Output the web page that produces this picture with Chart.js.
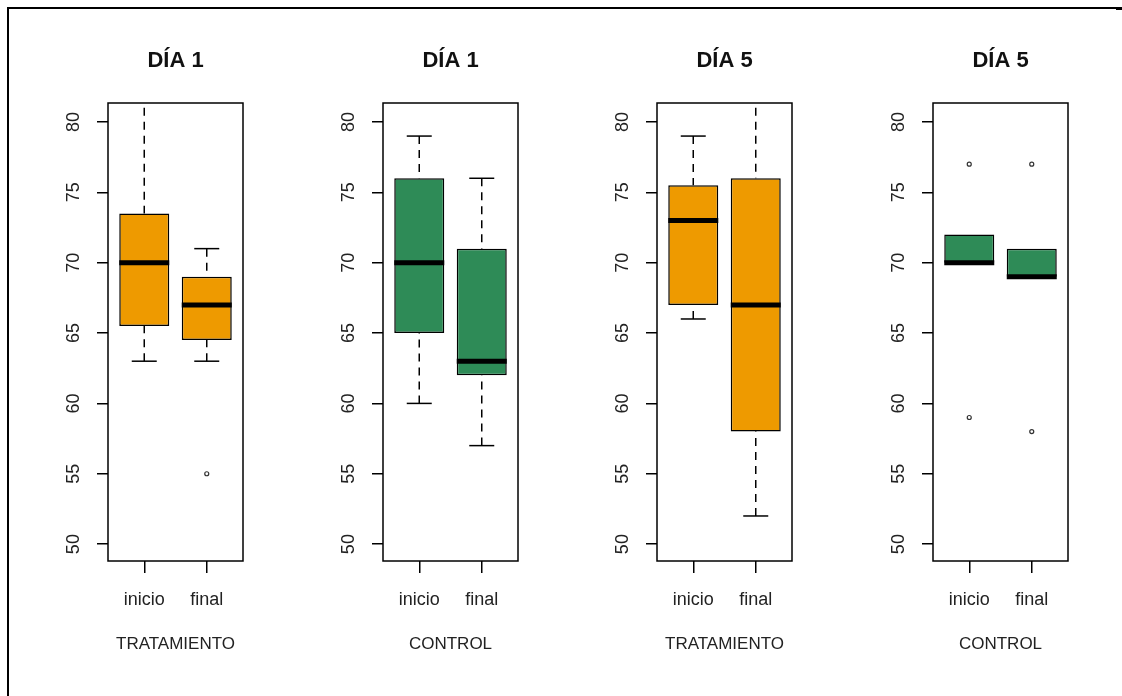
<!DOCTYPE html>
<html>
<head>
<meta charset="utf-8">
<script src="https://cdn.jsdelivr.net/npm/chart.js@4"></script>
<style>
html,body{margin:0;padding:0;background:#fff;}
body{width:1122px;height:696px;position:relative;overflow:hidden;}
#frame{position:absolute;left:7px;top:7px;width:1115px;height:689px;border-left:2px solid #000;border-top:2px solid #000;box-sizing:border-box;}
#stub{position:absolute;left:1116px;top:7px;width:6px;height:3px;background:#000;}
.panel{position:absolute;top:0;width:255px;height:696px;}
canvas{display:block;}
</style>
</head>
<body>
<div id="frame"></div>
<div id="stub"></div>
<div class="panel" style="left:48px"><canvas id="c0" width="255" height="696"></canvas></div>
<div class="panel" style="left:323px"><canvas id="c1" width="255" height="696"></canvas></div>
<div class="panel" style="left:597px"><canvas id="c2" width="255" height="696"></canvas></div>
<div class="panel" style="left:873px"><canvas id="c3" width="255" height="696"></canvas></div>
<script>
// ---- data ----
const categories = ["inicio", "final"];
const panelTitles = ["DÍA 1", "DÍA 1", "DÍA 5", "DÍA 5"];
const groupLabels = ["TRATAMIENTO", "CONTROL", "TRATAMIENTO", "CONTROL"];
const whiskerLow  = [[63, 63],     [60, 57], [66, 52],   [70, 69]];
const q1          = [[65.5, 64.5], [65, 62], [67, 58],   [70, 69]];
const median      = [[70, 67],     [70, 63], [73, 67],   [70, 69]];
const q3          = [[73.5, 69],   [76, 71], [75.5, 76], [72, 71]];
const whiskerHigh = [[82, 71],     [79, 76], [79, 82],   [72, 71]];
const outliers    = [[[], [55]], [[], []], [[], []], [[77, 59], [77, 58]]];
const yTicks = [50, 55, 60, 65, 70, 75, 80];
const fillColors = ["#EE9A00", "#2E8B57", "#EE9A00", "#2E8B57"];

// ---- styling ----
const FAMILY = "'Liberation Sans', Arial, sans-serif";

const boxPlugin = {
  id: 'boxWhiskers',
  beforeDatasetsDraw(chart, args, opts) {
    const {ctx, chartArea: a, scales: {y}} = chart;
    const bars = chart.getDatasetMeta(0).data;
    ctx.save();
    ctx.beginPath();
    ctx.rect(a.left, a.top, a.right - a.left, a.bottom - a.top);
    ctx.clip();
    ctx.strokeStyle = '#000';
    ctx.lineWidth = 1.5;
    bars.forEach((bar, i) => {
      const x = bar.x, half = bar.width / 4;
      [[opts.high[i], opts.q3[i]], [opts.low[i], opts.q1[i]]].forEach(([end, edge]) => {
        if (end === edge) return;
        const y0 = y.getPixelForValue(end), y1 = y.getPixelForValue(edge);
        ctx.setLineDash([8, 6]);
        ctx.beginPath(); ctx.moveTo(x, y0); ctx.lineTo(x, y1); ctx.stroke();
        ctx.setLineDash([]);
        ctx.beginPath(); ctx.moveTo(x - half, y0); ctx.lineTo(x + half, y0); ctx.stroke();
      });
    });
    ctx.restore();
  },
  afterDatasetsDraw(chart, args, opts) {
    const {ctx, chartArea: a, scales: {y}} = chart;
    const bars = chart.getDatasetMeta(0).data;
    ctx.save();
    ctx.strokeStyle = '#000';
    ctx.lineWidth = 5;
    ctx.lineCap = 'butt';
    bars.forEach((bar, i) => {
      const ym = y.getPixelForValue(opts.med[i]);
      ctx.beginPath();
      ctx.moveTo(bar.x - bar.width / 2, ym);
      ctx.lineTo(bar.x + bar.width / 2, ym);
      ctx.stroke();
    });
    ctx.lineWidth = 1.5;
    ctx.strokeRect(a.left, a.top, a.right - a.left, a.bottom - a.top);
    ctx.restore();
  }
};

for (let k = 0; k < 4; k++) {
  const ctx = document.getElementById('c' + k).getContext('2d');
  new Chart(ctx, {
    type: 'bar',
    data: {
      datasets: [
        {
          type: 'bar',
          data: categories.map((c, i) => ({x: i + 1, y: [q1[k][i], q3[k][i]]})),
          backgroundColor: fillColors[k],
          borderColor: '#000',
          borderWidth: 1.5,
          borderSkipped: false,
          barPercentage: 0.8,
          categoryPercentage: 1,
          grouped: false
        },
        {
          type: 'scatter',
          data: outliers[k].flatMap((vals, i) => vals.map(v => ({x: i + 1, y: v}))),
          pointRadius: 2,
          pointBorderWidth: 1.2,
          pointBorderColor: '#333',
          pointBackgroundColor: 'rgba(0,0,0,0)',
          showLine: false
        }
      ]
    },
    options: {
      responsive: false,
      animation: false,
      devicePixelRatio: 1,
      layout: {padding: {left: 0, right: 60, top: 0, bottom: 0}},
      plugins: {
        legend: {display: false},
        tooltip: {enabled: false},
        title: {
          display: true,
          fullSize: false,
          text: panelTitles[k],
          color: '#111',
          font: {family: FAMILY, size: 22, weight: 'bold'},
          padding: {top: 47.8, bottom: 28.8}
        },
        boxWhiskers: {low: whiskerLow[k], q1: q1[k], med: median[k], q3: q3[k], high: whiskerHigh[k]}
      },
      scales: {
        x: {
          type: 'linear',
          min: 0.42,
          max: 2.58,
          offset: false,
          afterBuildTicks: s => { s.ticks = categories.map((c, i) => ({value: i + 1})); },
          afterFit: s => { s.height = 135; },
          ticks: {
            callback: v => categories[v - 1],
            font: {family: FAMILY, size: 18},
            color: '#222',
            padding: 16,
            autoSkip: false,
            maxRotation: 0
          },
          grid: {drawOnChartArea: false, drawTicks: true, tickLength: 12, color: '#000', lineWidth: 1.5, offset: false},
          border: {display: false},
          title: {
            display: true,
            text: groupLabels[k],
            color: '#222',
            font: {family: FAMILY, size: 17},
            padding: {top: 0, bottom: 41.8}
          }
        },
        y: {
          min: 48.8,
          max: 81.35,
          afterBuildTicks: s => { s.ticks = yTicks.map(v => ({value: v})); },
          afterFit: s => { s.width = 60; },
          ticks: {
            minRotation: 90,
            maxRotation: 90,
            crossAlign: 'center',
            padding: 12.5,
            font: {family: FAMILY, size: 18},
            color: '#222'
          },
          grid: {drawOnChartArea: false, drawTicks: true, tickLength: 11, color: '#000', lineWidth: 1.5},
          border: {display: false}
        }
      }
    },
    plugins: [boxPlugin]
  });
}
</script>
</body>
</html>
